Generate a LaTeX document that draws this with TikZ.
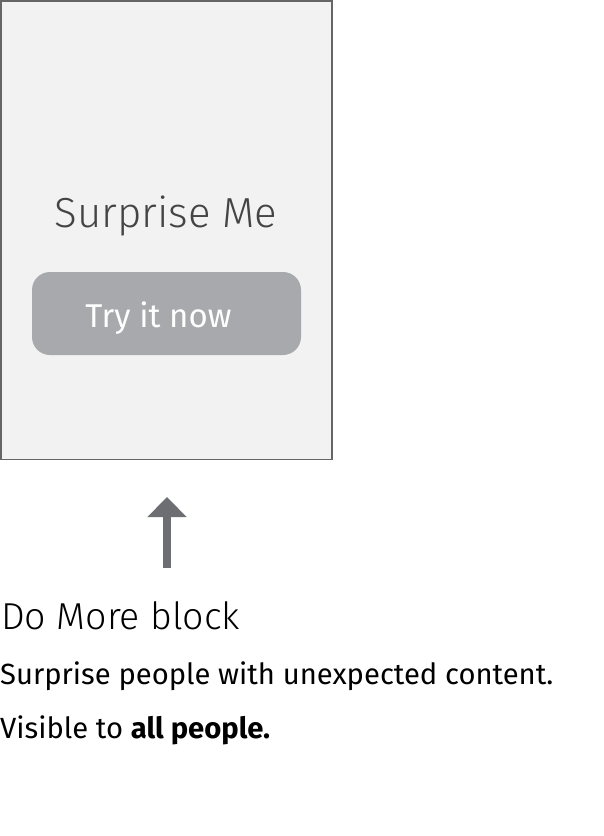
\documentclass[tikz,border=0pt]{standalone}
\usepackage{fontspec}
\setmainfont{Fira Sans}
\newfontfamily\flight{Fira Sans Light}
\usetikzlibrary{arrows.meta}
\definecolor{framefill}{HTML}{F1F2F1}
\definecolor{framedraw}{HTML}{666666}
\definecolor{btnfill}{HTML}{A8A9AC}
\definecolor{arrowgray}{HTML}{6D6E71}
\definecolor{titlegray}{HTML}{444444}
\tikzset{
  frame/.style={draw=framedraw, fill=framefill, line width=1.5pt},
  btn/.style={fill=btnfill, rounded corners=18pt},
  txt/.style={inner sep=0pt, anchor=base west},
}
\begin{document}
\begin{tikzpicture}[x=1pt,y=-1pt]
\useasboundingbox (0,0) rectangle (604,836);
\draw[frame] (0.75,0.75) rectangle (332,459.5);
\fill[btn] (32,272) rectangle (301,355);
\node[inner sep=0pt, anchor=base, text=titlegray] (title) at (166,227) {\fontsize{42}{50}\selectfont\flight Surprise Me};
\node[inner sep=0pt, anchor=base, text=white] (btntext) at (158.5,327) {\fontsize{33}{40}\selectfont Try it now};
\coordinate (arrowtail) at (167,568);
\coordinate (arrowtip) at (167,497);
\draw[arrowgray, line width=8pt, -{Triangle[length=20pt,width=38pt]}] (arrowtail) -- (arrowtip);
\node[txt] (head) at (1,629) {\fontsize{37.5}{45}\selectfont\flight Do More block};
\node[txt] (desc) at (0,684) {\fontsize{29.2}{35}\selectfont Surprise people with unexpected content.};
\node[txt] (vis) at (0,738) {\fontsize{29.2}{35}\selectfont Visible to \textbf{all people.}};
\end{tikzpicture}
\end{document}
